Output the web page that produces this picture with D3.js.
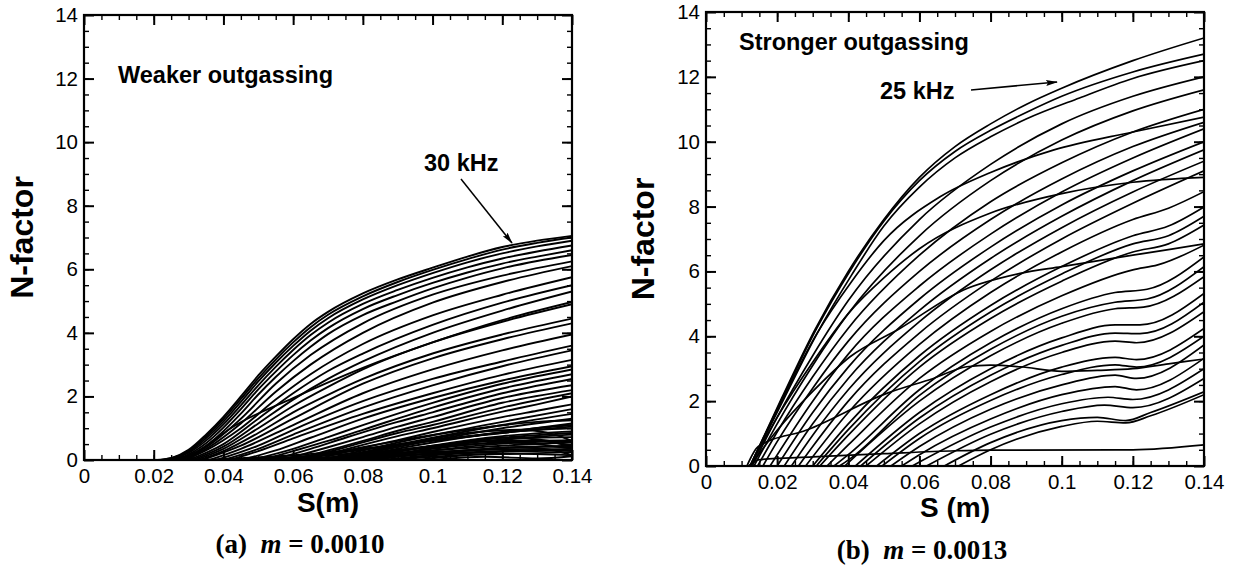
<!DOCTYPE html>
<html>
<head>
<meta charset="utf-8">
<script src="https://cdn.jsdelivr.net/npm/d3@7"></script>
<style>
  body { margin: 0; background: #fff; }
  svg { display: block; }
</style>
</head>
<body>
<svg id="fig" width="1237" height="573"></svg>
<script>
// --- tick labels -----------------------------------------------------
var xMajor = [0, 0.02, 0.04, 0.06, 0.08, 0.1, 0.12, 0.14];
var yMajor = [0, 2, 4, 6, 8, 10, 12, 14];

// --- (a) m = 0.0010, weaker outgassing: [S (m), N-factor]
var leftEnvelope = [
  [[0.021,0],[0.025,0.06],[0.03,0.32],[0.035,0.8],[0.04,1.36],[0.045,2.0],[0.05,2.66],[0.055,3.25],[0.06,3.8],[0.065,4.28],[0.07,4.66],[0.08,5.24],[0.09,5.68],[0.10,6.05],[0.11,6.4],[0.12,6.7],[0.13,6.9],[0.14,7.05]],
  [[0.022,0],[0.03,0.28],[0.035,0.74],[0.04,1.29],[0.045,1.92],[0.05,2.57],[0.055,3.16],[0.06,3.7],[0.065,4.18],[0.07,4.57],[0.08,5.15],[0.09,5.6],[0.10,5.98],[0.11,6.32],[0.12,6.62],[0.13,6.83],[0.14,7.0]],
  [[0.023,0],[0.03,0.25],[0.035,0.68],[0.04,1.21],[0.045,1.83],[0.05,2.47],[0.055,3.06],[0.06,3.59],[0.065,4.07],[0.07,4.46],[0.08,5.05],[0.09,5.5],[0.10,5.88],[0.11,6.22],[0.12,6.5],[0.13,6.72],[0.14,6.9]],
  [[0.024,0],[0.03,0.22],[0.035,0.61],[0.04,1.12],[0.045,1.72],[0.05,2.35],[0.055,2.93],[0.06,3.46],[0.065,3.93],[0.07,4.32],[0.08,4.91],[0.09,5.35],[0.10,5.73],[0.11,6.06],[0.12,6.34],[0.13,6.56],[0.14,6.75]],
  [[0.025,0],[0.03,0.18],[0.035,0.53],[0.04,1.02],[0.045,1.6],[0.05,2.22],[0.055,2.78],[0.06,3.3],[0.065,3.76],[0.07,4.15],[0.08,4.75],[0.09,5.19],[0.10,5.57],[0.11,5.9],[0.12,6.18],[0.13,6.4],[0.14,6.6]],
  [[0.026,0],[0.03,0.14],[0.035,0.45],[0.04,0.91],[0.045,1.46],[0.05,2.06],[0.055,2.61],[0.06,3.11],[0.065,3.56],[0.07,3.96],[0.08,4.56],[0.09,5.0],[0.10,5.4],[0.11,5.74],[0.12,6.03],[0.13,6.26],[0.14,6.45]]
];

var leftFan = [
  [[0.027,0],[0.035,0.4],[0.045,1.3],[0.055,2.4],[0.065,3.3],[0.08,4.3],[0.10,5.2],[0.12,5.8],[0.14,6.25]],
  [[0.028,0],[0.035,0.35],[0.045,1.15],[0.055,2.15],[0.065,3.0],[0.08,4.0],[0.10,4.95],[0.12,5.6],[0.14,6.1]],
  [[0.029,0],[0.035,0.3],[0.045,1.0],[0.055,1.9],[0.065,2.7],[0.08,3.65],[0.10,4.55],[0.12,5.2],[0.14,5.75]],
  [[0.030,0],[0.04,0.5],[0.05,1.3],[0.06,2.1],[0.07,2.8],[0.08,3.35],[0.10,4.25],[0.12,4.95],[0.14,5.5]],
  [[0.031,0],[0.04,0.42],[0.05,1.15],[0.06,1.9],[0.07,2.55],[0.08,3.1],[0.10,4.0],[0.12,4.7],[0.14,5.3]],
  [[0.032,0],[0.04,0.35],[0.05,1.0],[0.06,1.7],[0.07,2.3],[0.08,2.85],[0.10,3.7],[0.12,4.35],[0.14,4.9]],
  [[0.030,0],[0.043,1.06],[0.06,1.95],[0.08,2.9],[0.10,3.7],[0.12,4.4],[0.14,4.97]],
  [[0.033,0],[0.04,0.28],[0.05,0.85],[0.06,1.5],[0.07,2.05],[0.08,2.55],[0.10,3.35],[0.12,3.95],[0.14,4.45]],
  [[0.034,0],[0.045,0.45],[0.06,1.3],[0.08,2.4],[0.10,3.2],[0.12,3.8],[0.14,4.3]],
  [[0.036,0],[0.045,0.35],[0.06,1.1],[0.08,2.1],[0.10,2.85],[0.12,3.45],[0.14,3.95]],
  [[0.038,0],[0.05,0.45],[0.06,0.95],[0.08,1.85],[0.10,2.55],[0.12,3.1],[0.14,3.6]],
  [[0.040,0],[0.05,0.35],[0.06,0.8],[0.08,1.65],[0.10,2.35],[0.12,2.95],[0.14,3.45]],
  [[0.042,0],[0.05,0.28],[0.06,0.68],[0.08,1.45],[0.10,2.1],[0.12,2.68],[0.14,3.15]],
  [[0.045,0],[0.055,0.3],[0.065,0.7],[0.08,1.3],[0.10,1.95],[0.12,2.5],[0.14,2.95]],
  [[0.048,0],[0.06,0.35],[0.07,0.72],[0.08,1.1],[0.10,1.8],[0.12,2.4],[0.14,2.85]],
  [[0.051,0],[0.06,0.28],[0.07,0.6],[0.08,0.95],[0.10,1.65],[0.12,2.25],[0.14,2.7]],
  [[0.054,0],[0.065,0.35],[0.075,0.7],[0.09,1.2],[0.10,1.5],[0.12,2.1],[0.14,2.55]],
  [[0.057,0],[0.07,0.4],[0.08,0.72],[0.09,1.05],[0.10,1.35],[0.12,1.95],[0.14,2.35]],
  [[0.060,0],[0.07,0.3],[0.08,0.6],[0.09,0.92],[0.10,1.2],[0.12,1.8],[0.14,2.2]],
  [[0.062,0],[0.075,0.4],[0.09,0.85],[0.10,1.1],[0.12,1.65],[0.14,2.1]],
  [[0.064,0],[0.075,0.33],[0.09,0.75],[0.10,1.0],[0.12,1.52],[0.13,1.75],[0.14,2.0]],
  [[0.066,0],[0.08,0.38],[0.09,0.62],[0.10,0.88],[0.12,1.35],[0.13,1.55],[0.14,1.75]],
  [[0.068,0],[0.08,0.3],[0.09,0.55],[0.10,0.78],[0.12,1.2],[0.14,1.6]],
  [[0.070,0],[0.08,0.25],[0.09,0.48],[0.10,0.7],[0.12,1.1],[0.14,1.45]],
  [[0.072,0],[0.085,0.3],[0.10,0.62],[0.12,1.0],[0.14,1.3]],
  [[0.074,0],[0.085,0.25],[0.10,0.55],[0.12,0.88],[0.14,1.1]],
  [[0.076,0],[0.09,0.25],[0.10,0.45],[0.12,0.75],[0.14,0.9]],
  [[0.078,0],[0.09,0.2],[0.10,0.38],[0.12,0.65],[0.14,0.8]],
  [[0.080,0],[0.095,0.22],[0.11,0.42],[0.125,0.55],[0.14,0.6]],
  [[0.082,0],[0.10,0.22],[0.12,0.38],[0.14,0.45]],
  [[0.085,0],[0.10,0.15],[0.12,0.26],[0.14,0.3]]
];

var leftLow = [
  [[0.035,0],[0.06,0.15],[0.08,0.35],[0.10,0.6],[0.12,0.85],[0.14,1.05]],
  [[0.040,0],[0.07,0.15],[0.09,0.3],[0.11,0.48],[0.13,0.6],[0.14,0.62]],
  [[0.045,0],[0.07,0.08],[0.09,0.2],[0.11,0.3],[0.13,0.35],[0.14,0.3]],
  [[0.050,0],[0.07,0.2],[0.09,0.5],[0.11,0.75],[0.13,0.95],[0.14,1.0]],
  [[0.055,0],[0.075,0.25],[0.095,0.55],[0.115,0.8],[0.14,1.15]],
  [[0.060,0],[0.08,0.15],[0.10,0.3],[0.12,0.45],[0.14,0.55]],
  [[0.060,0],[0.075,0.3],[0.09,0.6],[0.11,0.95],[0.13,1.2],[0.14,1.25]],
  [[0.065,0],[0.085,0.12],[0.105,0.22],[0.125,0.3],[0.14,0.35]],
  [[0.068,0],[0.08,0.18],[0.10,0.45],[0.12,0.7],[0.14,0.85]],
  [[0.070,0],[0.09,0.3],[0.11,0.55],[0.13,0.7],[0.14,0.72]],
  [[0.070,0],[0.09,0.45],[0.11,0.85],[0.125,0.95],[0.135,0.8],[0.14,0.6]],
  [[0.075,0],[0.095,0.35],[0.115,0.6],[0.13,0.6],[0.14,0.45]],
  [[0.075,0],[0.09,0.12],[0.11,0.3],[0.13,0.42],[0.14,0.4]],
  [[0.080,0],[0.10,0.35],[0.12,0.55],[0.13,0.5],[0.14,0.35]],
  [[0.085,0],[0.105,0.5],[0.12,0.7],[0.132,0.62],[0.14,0.4]],
  [[0.088,0],[0.10,0.1],[0.12,0.2],[0.14,0.15]],
  [[0.090,0],[0.11,0.3],[0.125,0.4],[0.135,0.3],[0.14,0.15]],
  [[0.095,0],[0.11,0.15],[0.125,0.2],[0.14,0.25]],
  [[0.100,0],[0.115,0.1],[0.13,0.05],[0.14,0.12]]
];

// --- (b) m = 0.0013, stronger outgassing
var rightBundle = [
  [[0.0124,0],[0.0213,2.1],[0.0306,4.2],[0.04,6.0],[0.05,7.6],[0.06,8.9],[0.07,9.85],[0.08,10.55],[0.09,11.15],[0.1,11.65],[0.12,12.5],[0.14,13.2]],
  [[0.0124,0],[0.0215,2.1],[0.0309,4.2],[0.0404,6.0],[0.05,7.55],[0.06,8.8],[0.07,9.7],[0.08,10.35],[0.09,10.9],[0.1,11.4],[0.12,12.15],[0.14,12.7]],
  [[0.0124,0],[0.0218,2.05],[0.0313,4.1],[0.041,5.9],[0.05,7.4],[0.06,8.6],[0.07,9.5],[0.08,10.15],[0.09,10.7],[0.105,11.35],[0.12,11.95],[0.14,12.5]]
];

var rightMain = [
  [[0.013,0],[0.02,1.5],[0.03,3.4],[0.04,5.1],[0.06,7.6],[0.08,9.3],[0.10,10.55],[0.12,11.4],[0.14,12.0]],
  [[0.0135,0],[0.02,1.3],[0.03,3.1],[0.04,4.7],[0.06,7.1],[0.08,8.8],[0.10,10.05],[0.12,10.95],[0.14,11.6]],
  [[0.0145,0],[0.02,1.05],[0.03,2.75],[0.04,4.25],[0.06,6.5],[0.08,8.15],[0.10,9.35],[0.12,10.3],[0.14,11.0]],
  [[0.016,0],[0.02,0.75],[0.03,2.4],[0.04,3.85],[0.06,6.0],[0.08,7.6],[0.10,8.85],[0.12,9.85],[0.14,10.6]],
  [[0.018,0],[0.03,2.0],[0.04,3.45],[0.06,5.55],[0.08,7.15],[0.10,8.45],[0.12,9.5],[0.14,10.4]],
  [[0.020,0],[0.03,1.65],[0.04,3.05],[0.06,5.15],[0.08,6.75],[0.10,8.05],[0.12,9.1],[0.14,10.0]],
  [[0.022,0],[0.03,1.3],[0.04,2.7],[0.06,4.8],[0.08,6.4],[0.10,7.7],[0.12,8.8],[0.14,9.75]],
  [[0.024,0],[0.03,0.95],[0.04,2.35],[0.06,4.45],[0.08,6.05],[0.10,7.35],[0.12,8.45],[0.14,9.4]],
  [[0.026,0],[0.03,0.6],[0.04,2.0],[0.06,4.1],[0.08,5.7],[0.10,7.0],[0.12,8.1],[0.14,9.1]],
  [[0.028,0],[0.04,1.65],[0.06,3.75],[0.08,5.35],[0.10,6.6],[0.12,7.6],[0.13,7.95],[0.14,8.46]],
  [[0.030,0],[0.04,1.3],[0.06,3.4],[0.08,4.95],[0.10,6.15],[0.12,7.1],[0.13,7.4],[0.14,7.99]],
  [[0.031,0],[0.04,1.12],[0.06,3.22],[0.08,4.75],[0.10,5.92],[0.12,6.85],[0.13,7.1],[0.14,7.7]],
  [[0.032,0],[0.04,0.95],[0.06,3.05],[0.08,4.55],[0.10,5.7],[0.12,6.6],[0.13,6.85],[0.14,7.43]],
  [[0.034,0],[0.04,0.65],[0.06,2.7],[0.08,4.15],[0.10,5.25],[0.12,6.05],[0.127,6.2],[0.14,6.81]],
  [[0.036,0],[0.04,0.35],[0.06,2.35],[0.08,3.8],[0.10,4.85],[0.115,5.35],[0.124,5.45],[0.14,6.45]],
  [[0.0375,0],[0.04,0.18],[0.06,2.18],[0.08,3.6],[0.10,4.62],[0.115,5.05],[0.124,5.15],[0.14,6.15]],
  [[0.039,0],[0.06,2.0],[0.08,3.4],[0.10,4.4],[0.115,4.85],[0.123,4.9],[0.14,5.84]],
  [[0.042,0],[0.06,1.65],[0.08,3.0],[0.10,3.95],[0.115,4.35],[0.122,4.35],[0.14,5.32]],
  [[0.0435,0],[0.06,1.48],[0.08,2.8],[0.10,3.72],[0.115,4.1],[0.122,4.08],[0.14,5.05]],
  [[0.045,0],[0.06,1.3],[0.08,2.6],[0.10,3.5],[0.115,3.85],[0.121,3.8],[0.14,4.76]],
  [[0.048,0],[0.06,1.0],[0.08,2.2],[0.10,3.05],[0.115,3.35],[0.121,3.28],[0.14,4.24]],
  [[0.0495,0],[0.06,0.85],[0.08,2.02],[0.10,2.82],[0.115,3.12],[0.121,3.05],[0.14,4.0]],
  [[0.052,0],[0.06,0.6],[0.08,1.75],[0.10,2.5],[0.115,2.8],[0.121,2.7],[0.14,3.73]],
  [[0.055,0],[0.06,0.35],[0.08,1.45],[0.10,2.2],[0.115,2.45],[0.121,2.35],[0.14,3.32]],
  [[0.058,0],[0.06,0.12],[0.08,1.2],[0.10,1.92],[0.113,2.12],[0.12,2.05],[0.14,3.0]],
  [[0.062,0],[0.08,0.98],[0.10,1.68],[0.112,1.88],[0.12,1.8],[0.14,2.7]],
  [[0.067,0],[0.08,0.72],[0.10,1.4],[0.11,1.5],[0.118,1.4],[0.125,1.65],[0.14,2.29]],
  [[0.071,0],[0.08,0.5],[0.10,1.22],[0.11,1.38],[0.118,1.33],[0.125,1.55],[0.14,2.2]]
];

var rightCross = [
  [[0.0124,0],[0.0215,2.05],[0.031,4.05],[0.041,5.7],[0.05,6.95],[0.0658,8.3],[0.08,9.05],[0.0976,9.74],[0.12,10.3],[0.14,10.76]],
  [[0.0124,0],[0.02,1.5],[0.03,3.2],[0.04,4.7],[0.05,5.8],[0.06,6.7],[0.08,7.8],[0.10,8.4],[0.12,8.75],[0.14,8.9]],
  [[0.0124,0],[0.02,1.1],[0.03,2.3],[0.0405,3.37],[0.0545,4.24],[0.0724,5.43],[0.0883,5.94],[0.10,6.15],[0.12,6.5],[0.14,6.85]],
  [[0.0115,0],[0.0147,0.6],[0.0283,1.11],[0.0508,2.24],[0.0639,2.7],[0.0733,3.06],[0.08,3.11],[0.0883,3.06],[0.10,2.92],[0.11,2.95],[0.12,3.0],[0.13,3.15],[0.14,3.3]],
  [[0.012,0],[0.0147,0.19],[0.03,0.28],[0.05,0.38],[0.07,0.47],[0.08,0.49],[0.12,0.5],[0.14,0.65]]
];

// --- drawing -----------------------------------------------------------
var svg = d3.select('#fig');
var SANS = 'Liberation Sans, Arial, Helvetica, sans-serif';
var SERIF = 'Liberation Serif, Times New Roman, serif';

var defs = svg.append('defs');
defs.append('marker')
    .attr('id', 'arrow')
    .attr('viewBox', '0 -4 12 8')
    .attr('refX', 11).attr('refY', 0)
    .attr('markerWidth', 12).attr('markerHeight', 8)
    .attr('markerUnits', 'userSpaceOnUse')
    .attr('orient', 'auto')
  .append('path')
    .attr('d', 'M0,-3L12,0L0,3L2,0Z')
    .attr('fill', '#000');

function tidyAxis(sel, major) {
    sel.select('.domain').remove();
    sel.attr('font-family', SANS).attr('font-size', 20.5);
    sel.selectAll('line').attr('stroke', '#000').attr('stroke-width', major ? 2 : 1.4);
    sel.selectAll('text').attr('fill', '#000');
}

function drawPanel(p) {
    var x = d3.scaleLinear().domain([0, 0.14]).range([p.x0, p.x1]),
        y = d3.scaleLinear().domain([0, 14]).range([p.y1, p.y0]),
        xMinor = d3.range(1, 28).map(function (i) { return +(i * 0.005).toFixed(3); }),
        yMinor = d3.range(1, 28).map(function (i) { return i * 0.5; }),
        g = svg.append('g').attr('id', 'panel-' + p.id);

    defs.append('clipPath').attr('id', 'clip-' + p.id)
      .append('rect')
        .attr('x', p.x0).attr('y', p.y0)
        .attr('width', p.x1 - p.x0).attr('height', p.y1 - p.y0);

    var line = d3.line()
        .x(function (d) { return x(d[0]); })
        .y(function (d) { return y(d[1]); })
        .curve(d3.curveMonotoneX);

    g.append('g').attr('clip-path', 'url(#clip-' + p.id + ')')
      .selectAll('path').data(p.curves).join('path')
        .attr('d', line)
        .attr('fill', 'none')
        .attr('stroke', '#000')
        .attr('stroke-width', p.lineWidth)
        .attr('stroke-linejoin', 'round');

    // minor ticks, all four sides, pointing inward
    g.append('g').attr('transform', 'translate(0,' + p.y1 + ')')
        .call(d3.axisBottom(x).tickValues(xMinor).tickSize(-5).tickFormat(''))
        .call(tidyAxis, false);
    g.append('g').attr('transform', 'translate(0,' + p.y0 + ')')
        .call(d3.axisTop(x).tickValues(xMinor).tickSize(-5).tickFormat(''))
        .call(tidyAxis, false);
    g.append('g').attr('transform', 'translate(' + p.x0 + ',0)')
        .call(d3.axisLeft(y).tickValues(yMinor).tickSize(-5).tickFormat(''))
        .call(tidyAxis, false);
    g.append('g').attr('transform', 'translate(' + p.x1 + ',0)')
        .call(d3.axisRight(y).tickValues(yMinor).tickSize(-5).tickFormat(''))
        .call(tidyAxis, false);

    // major ticks with labels on bottom / left
    g.append('g').attr('transform', 'translate(0,' + p.y1 + ')')
        .call(d3.axisBottom(x).tickValues(xMajor).tickSizeInner(-10).tickSizeOuter(0)
            .tickPadding(8.5).tickFormat(function (d) { return String(d); }))
        .call(tidyAxis, true);
    g.append('g').attr('transform', 'translate(0,' + p.y0 + ')')
        .call(d3.axisTop(x).tickValues(xMajor).tickSize(-10).tickFormat(''))
        .call(tidyAxis, true);
    g.append('g').attr('transform', 'translate(' + p.x0 + ',0)')
        .call(d3.axisLeft(y).tickValues(yMajor).tickSizeInner(-10).tickSizeOuter(0)
            .tickPadding(6).tickFormat(function (d) { return String(d); }))
        .call(tidyAxis, true);
    g.append('g').attr('transform', 'translate(' + p.x1 + ',0)')
        .call(d3.axisRight(y).tickValues(yMajor).tickSize(-10).tickFormat(''))
        .call(tidyAxis, true);

    // frame
    g.append('rect')
        .attr('x', p.x0).attr('y', p.y0)
        .attr('width', p.x1 - p.x0).attr('height', p.y1 - p.y0)
        .attr('fill', 'none').attr('stroke', '#000').attr('stroke-width', 2.2);

    // axis titles
    g.append('text')
        .attr('transform', 'translate(' + p.yTitleX + ',' + ((p.y0 + p.y1) / 2) + ') rotate(-90)')
        .attr('text-anchor', 'middle').attr('dy', '0.36em')
        .attr('font-family', SANS).attr('font-weight', 'bold').attr('font-size', 32)
        .text('N-factor');
    g.append('text')
        .attr('x', (p.x0 + p.x1) / 2).attr('y', p.xTitleY)
        .attr('text-anchor', 'middle')
        .attr('font-family', SANS).attr('font-weight', 'bold').attr('font-size', 28)
        .text(p.xTitle);

    // in-plot notes
    g.append('text')
        .attr('x', p.note[0]).attr('y', p.note[1])
        .attr('font-family', SANS).attr('font-weight', 'bold').attr('font-size', 23.5)
        .text(p.note[2]);
    g.append('text')
        .attr('x', p.freq[0]).attr('y', p.freq[1])
        .attr('font-family', SANS).attr('font-weight', 'bold').attr('font-size', 23.5)
        .text(p.freq[2]);
    g.append('line')
        .attr('x1', p.arrow[0]).attr('y1', p.arrow[1])
        .attr('x2', p.arrow[2]).attr('y2', p.arrow[3])
        .attr('stroke', '#000').attr('stroke-width', 1.5)
        .attr('marker-end', 'url(#arrow)');

    // caption
    var cap = g.append('text')
        .attr('x', p.capX).attr('y', p.capY)
        .attr('text-anchor', 'middle')
        .attr('font-family', SERIF).attr('font-weight', 'bold').attr('font-size', 27)
        .attr('xml:space', 'preserve');
    cap.append('tspan').text(p.caption[0] + '  ');
    cap.append('tspan').attr('font-style', 'italic').text('m');
    cap.append('tspan').text(' = ' + p.caption[1]);
}

drawPanel({
    id: 'a', x0: 84, x1: 572, y0: 15, y1: 460, lineWidth: 1.9,
    curves: leftEnvelope.concat(leftFan, leftLow),
    yTitleX: 21, xTitleY: 512, xTitle: 'S(m)',
    note: [118, 83, 'Weaker outgassing'],
    freq: [424, 171, '30 kHz'],
    arrow: [461, 179, 512, 243],
    capX: 300, capY: 553, caption: ['(a)', '0.0010']
});

drawPanel({
    id: 'b', x0: 706, x1: 1204, y0: 12, y1: 466, lineWidth: 1.7,
    curves: rightBundle.concat(rightMain, rightCross),
    yTitleX: 642, xTitleY: 517, xTitle: 'S (m)',
    note: [739, 50, 'Stronger outgassing'],
    freq: [880, 99, '25 kHz'],
    arrow: [971, 90, 1057, 82],
    capX: 922, capY: 559, caption: ['(b)', '0.0013']
});
</script>
</body>
</html>
